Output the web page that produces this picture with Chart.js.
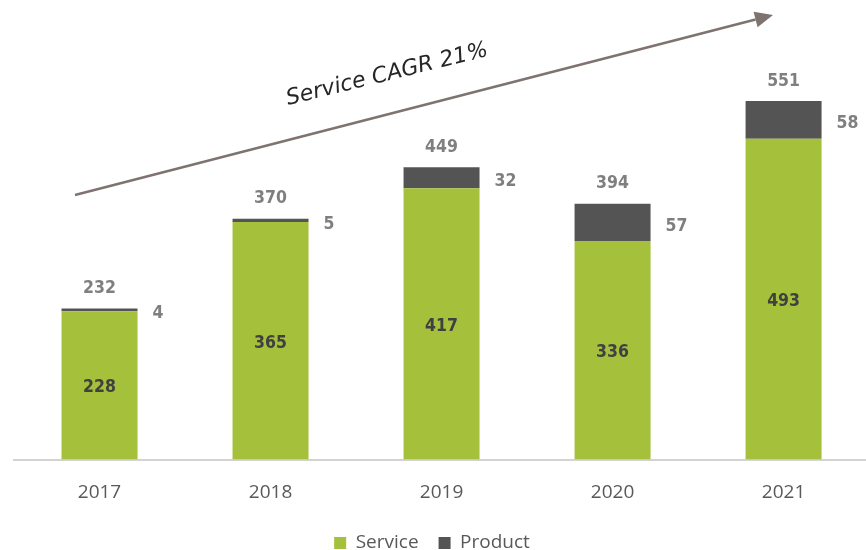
<!DOCTYPE html>
<html>
<head>
<meta charset="utf-8">
<script src="https://cdn.jsdelivr.net/npm/chart.js@4/dist/chart.umd.min.js"></script>
<style>
  html, body { margin: 0; padding: 0; background: #ffffff; overflow: hidden; }
  #wrap { width: 866px; height: 550px; position: relative; }
</style>
</head>
<body>
<div id="wrap"><canvas id="c" width="866" height="550"></canvas></div>
<script>
const categories = ['2017', '2018', '2019', '2020', '2021'];
const serviceValues = [228, 365, 417, 336, 493];
const productValues = [4, 5, 32, 57, 58];
const totalValues = [232, 370, 449, 394, 551];
const seriesNames = ['Service', 'Product'];
const annotationText = 'Service CAGR 21%';

const GREEN = '#a5c03b';
const DARK = '#545454';
const LABEL_FONT = 'bold 17.5px "DejaVu Sans Condensed", "DejaVu Sans"';

const labelPlugin = {
  id: 'labels',
  afterLayout(chart) {
    if (chart.legend) {
      chart.legend.left -= 8;
      chart.legend.right -= 8;
    }
  },
  afterDatasetsDraw(chart) {
    const ctx = chart.ctx;
    const m0 = chart.getDatasetMeta(0);
    const m1 = chart.getDatasetMeta(1);
    ctx.save();
    ctx.textBaseline = 'middle';
    ctx.font = LABEL_FONT;
    categories.forEach((c, i) => {
      const b0 = m0.data[i];
      const b1 = m1.data[i];
      ctx.fillStyle = '#404040';
      ctx.textAlign = 'center';
      ctx.fillText(String(serviceValues[i]), b0.x, (b0.y + b0.base) / 2 + 2.5);
      ctx.fillStyle = '#7f7f7f';
      ctx.textAlign = 'left';
      ctx.fillText(String(productValues[i]), b1.x + b1.width / 2 + 15, (b1.y + b1.base) / 2 + 4);
      ctx.textAlign = 'center';
      ctx.fillText(String(totalValues[i]), b1.x, b1.y - 20);
    });
    ctx.restore();
  },
  afterDraw(chart) {
    const ctx = chart.ctx;
    ctx.save();
    const x1 = 75, y1 = 195, x2 = 773, y2 = 15;
    const ang = Math.atan2(y2 - y1, x2 - x1);
    const headLen = 18, headW = 8;
    const bx = x2 - headLen * Math.cos(ang), by = y2 - headLen * Math.sin(ang);
    ctx.strokeStyle = '#7f7370';
    ctx.fillStyle = '#7f7370';
    ctx.lineWidth = 2.5;
    ctx.beginPath();
    ctx.moveTo(x1, y1);
    ctx.lineTo(bx, by);
    ctx.stroke();
    ctx.beginPath();
    ctx.moveTo(x2, y2);
    ctx.lineTo(bx + headW * Math.sin(ang), by - headW * Math.cos(ang));
    ctx.lineTo(bx - headW * Math.sin(ang), by + headW * Math.cos(ang));
    ctx.closePath();
    ctx.fill();
    ctx.translate(288, 105);
    ctx.rotate(-13.8 * Math.PI / 180);
    ctx.font = 'oblique 22px "DejaVu Sans"';
    ctx.fillStyle = '#262626';
    ctx.textAlign = 'left';
    ctx.textBaseline = 'alphabetic';
    ctx.fillText(annotationText, 0, 0);
    ctx.restore();
  }
};

new Chart(document.getElementById('c'), {
  type: 'bar',
  data: {
    datasets: [
      { label: seriesNames[0], data: serviceValues.map((v, i) => ({ x: i, y: v })), backgroundColor: GREEN, borderWidth: 0 },
      { label: seriesNames[1], data: productValues.map((v, i) => ({ x: i, y: v })), backgroundColor: DARK, borderWidth: 0 }
    ]
  },
  options: {
    responsive: false,
    animation: false,
    layout: { padding: { left: 14, right: 0, top: 4, bottom: -12.4 } },
    datasets: { bar: { barPercentage: 0.4444, categoryPercentage: 1 } },
    scales: {
      x: {
        type: 'linear',
        stacked: true,
        min: -0.5,
        max: 4.482,
        offset: false,
        grid: { display: false, drawTicks: false },
        border: { display: true, color: '#d3d3d3', width: 2 },
        afterBuildTicks(scale) { scale.ticks = categories.map((c, i) => ({ value: i })); },
        afterFit(scale) { scale.height -= 13; },
        ticks: {
          autoSkip: false,
          maxRotation: 0,
          padding: 22,
          color: '#595959',
          font: { family: '"Open Sans"', size: 19 },
          callback: (v) => categories[v]
        }
      },
      y: {
        stacked: true,
        display: false,
        min: 0,
        max: 700
      }
    },
    plugins: {
      legend: {
        position: 'bottom',
        labels: {
          boxWidth: 12,
          boxHeight: 12,
          padding: 20,
          color: '#595959',
          font: { family: '"Open Sans"', size: 19 }
        }
      },
      tooltip: { enabled: false }
    }
  },
  plugins: [labelPlugin]
});
</script>
</body>
</html>
